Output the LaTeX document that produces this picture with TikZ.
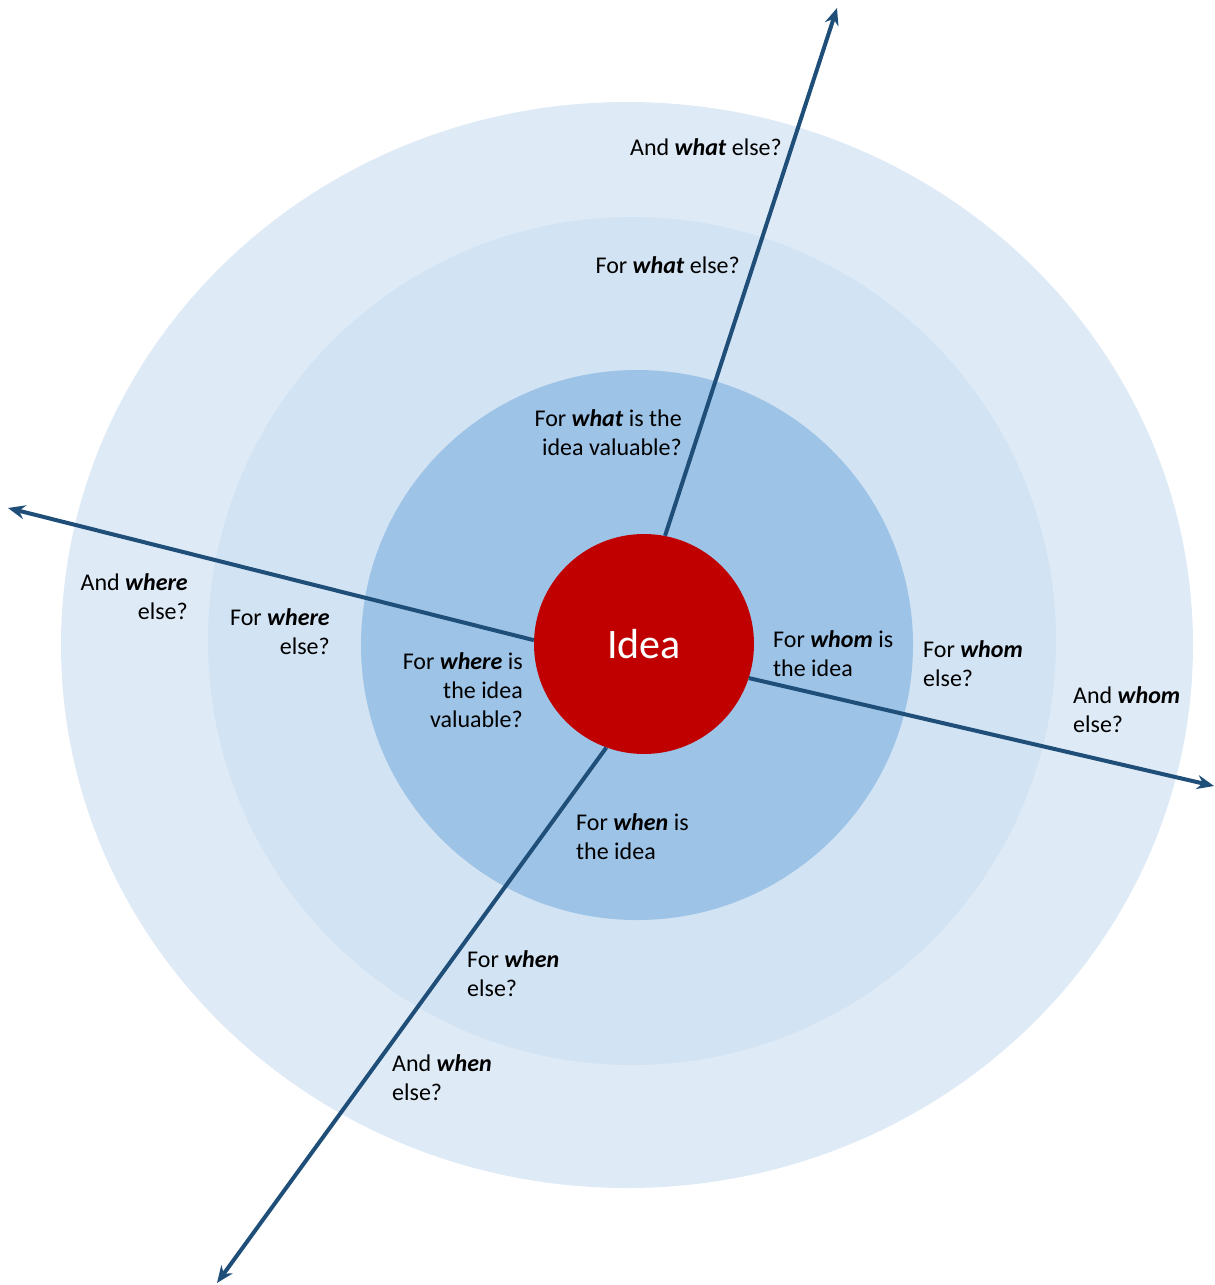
\documentclass[tikz,border=0pt]{standalone}
\usepackage{fontspec}
\setmainfont{Carlito}
\usetikzlibrary{arrows.meta}

\definecolor{ringout}{RGB}{222,234,246}
\definecolor{ringmid}{RGB}{210,227,243}
\definecolor{ringin}{RGB}{157,195,230}
\definecolor{ideared}{RGB}{192,0,0}
\definecolor{axisblue}{RGB}{31,78,121}

\newcommand{\wq}[1]{\textbf{\textit{#1}}}

\tikzset{
  ask/.style={inner sep=0pt, font=\fontsize{24}{29}\selectfont},
  askl/.style={ask, align=left, anchor=base west},
  askr/.style={ask, align=right, anchor=base east},
  axisarrow/.style={-{Stealth[length=17pt,width=14pt]}, line width=4pt, draw=axisblue},
}

\begin{document}
\begin{tikzpicture}[x=1pt,y=-1pt]
\useasboundingbox (0,0) rectangle (1215,1285);

% draw rings
\fill[ringout] (627,645) ellipse [x radius=566, y radius=543];
\fill[ringmid] (632,641) ellipse [x radius=424, y radius=424];
\fill[ringin] (637,645) ellipse [x radius=276, y radius=275];

% the idea
\node (idea) [circle, fill=ideared, minimum size=220pt, inner sep=0pt, text=white,
  font=\fontsize{42}{46}\selectfont] at (644,644) {Idea};

% draw axes
\coordinate (what) at (837,8);
\coordinate (where) at (8,508);
\coordinate (whom) at (1214,786);
\coordinate (when) at (217,1283);
\draw[axisarrow] (idea.79) -- (what);
\draw[axisarrow] (idea.178) -- (where);
\draw[axisarrow] (idea.342) -- (whom);
\draw[axisarrow] (idea.250) -- (when);

% what (base = last line)
\node (what3) [askr] at (782,155) {And \wq{what} else?};
\node (what2) [askr] at (740,273) {For \wq{what} else?};
\node (what1) [askr] at (682,455) {For \wq{what} is the\\idea valuable?};

% where
\node (where3) [askr] at (188,619) {And \wq{where}\\else?};
\node (where2) [askr] at (330,654) {For \wq{where}\\else?};
\node (where1) [askr] at (523,727) {For \wq{where} is\\the idea\\valuable?};

% whom
\node (whom1) [askl] at (773,676) {For \wq{whom} is\\the idea};
\node (whom2) [askl] at (923,686) {For \wq{whom}\\else?};
\node (whom3) [askl] at (1073,732) {And \wq{whom}\\else?};

% when
\node (when1) [askl] at (576,859) {For \wq{when} is\\the idea};
\node (when2) [askl] at (467,996) {For \wq{when}\\else?};
\node (when3) [askl] at (392,1100) {And \wq{when}\\else?};

\end{tikzpicture}
\end{document}
